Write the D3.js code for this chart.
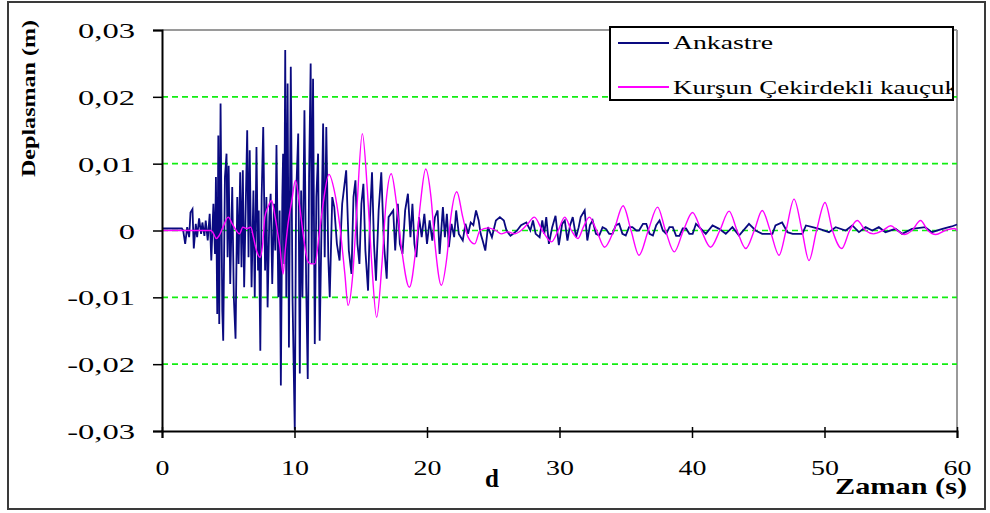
<!DOCTYPE html>
<html>
<head>
<meta charset="utf-8">
<script src="https://cdn.jsdelivr.net/npm/d3@7"></script>
<style>
  html, body { margin: 0; padding: 0; background: #fff; }
  svg { display: block; }
</style>
</head>
<body>
<svg id="chart" width="990" height="513"></svg>
<script>
// ---------------- DATA ----------------
const xTicks = [0, 10, 20, 30, 40, 50, 60];
const xTickLabels = ["0", "10", "20", "30", "40", "50", "60"];
const yTicks = [-0.03, -0.02, -0.01, 0, 0.01, 0.02, 0.03];
const yTickLabels = ["-0,03", "-0,02", "-0,01", "0", "0,01", "0,02", "0,03"];
const gridValues = [-0.02, -0.01, 0, 0.01, 0.02];
const seriesNames = ["Ankastre", "Kurşun Çekirdekli kauçuk"];
const yTitle = "Deplasman (m)";
const xTitle = "Zaman (s)";
const panelLetter = "d";

// Ankastre (fixed base) displacement, [time s, displacement m]
const ankastre = [
  [0,0.0003],[1.5,0.0003],[1.6,0],[1.75,-0.002],[1.9,0.0005],[2.05,-0.001],[2.15,0.0027],[2.3,0.0032],
  [2.4,-0.0027],[2.55,0.001],[2.65,-0.001],[2.8,0.0018],[2.95,-0.0005],[3.05,0.0012],[3.2,-0.0008],
  [3.3,0.0015],[3.45,-0.0015],[3.6,0.0025],[3.72,-0.0045],[3.88,0.004],[4.0,-0.0035],[4.07,0.008],
  [4.17,-0.0125],[4.25,0.0142],[4.32,-0.014],[4.42,0.019],[4.55,-0.012],[4.62,-0.0165],[4.75,0.008],
  [4.87,0.0115],[4.95,-0.004],[5.03,0.0097],[5.15,-0.008],[5.3,0.0065],[5.42,-0.01],[5.55,-0.0162],
  [5.68,0.005],[5.78,-0.005],[5.9,0.0087],[6.0,-0.0055],[6.1,0.009],[6.2,-0.0085],[6.43,0.015],
  [6.53,-0.004],[6.62,0.012],[6.76,-0.0085],[6.9,0.006],[7.0,-0.01],[7.13,0.0125],[7.25,-0.006],
  [7.3,0.003],[7.42,-0.018],[7.52,0.005],[7.64,0.0155],[7.78,-0.006],[7.88,0.005],[7.97,-0.0115],
  [8.1,0.002],[8.2,0.0055],[8.32,-0.008],[8.45,0.004],[8.55,-0.003],[8.64,0.0128],[8.78,-0.01],
  [8.88,0.003],[8.97,-0.0232],[9.08,0.005],[9.14,0.0115],[9.22,-0.005],[9.3,0.027],[9.38,-0.01],
  [9.48,0.022],[9.58,-0.0175],[9.72,0.0245],[9.85,-0.01],[10.02,-0.0298],[10.12,0.005],[10.28,0.0145],
  [10.4,-0.0214],[10.5,0.006],[10.6,-0.01],[10.75,0.018],[10.88,-0.008],[11.0,-0.0222],[11.1,0.008],
  [11.22,0.025],[11.3,-0.005],[11.4,0.0227],[11.53,-0.017],[11.65,0.005],[11.78,0.0115],[11.9,-0.0165],
  [12.05,0.002],[12.16,0.016],[12.28,-0.004],[12.4,0.0155],[12.55,-0.004],[12.66,-0.01],[12.85,0.005],
  [13.0,0.0035],[13.2,-0.002],[13.4,-0.0045],[13.6,0.004],[13.9,0.009],[14.1,-0.003],[14.3,-0.0065],
  [14.45,0.005],[14.6,0.0075],[14.75,-0.002],[14.9,-0.005],[15.05,0.004],[15.2,0.007],[15.35,-0.003],
  [15.55,-0.009],[15.7,0.002],[15.85,0.0087],[16.0,-0.002],[16.15,-0.0075],[16.35,0.003],[16.55,0.0087],
  [16.75,-0.002],[16.96,-0.0072],[17.1,0.002],[17.45,0.003],[17.6,-0.003],[17.8,0.004],[17.95,-0.002],
  [18.15,-0.0035],[18.35,0.003],[18.56,0.0055],[18.75,-0.001],[18.9,0.004],[19.05,-0.002],[19.2,-0.004],
  [19.4,0.002],[19.6,-0.001],[19.8,0.0025],[20.0,-0.002],[20.2,0.0015],[20.4,-0.0015],[20.6,0.002],
  [20.8,0.003],[20.95,-0.0035],[21.2,0.0035],[21.35,-0.001],[21.5,0.0025],[21.65,-0.0025],[21.85,0.001],
  [22.05,-0.001],[22.2,0.003],[22.4,-0.0005],[22.7,-0.0015],[22.9,0.001],[23.1,-0.0005],[23.3,0.0012],
  [23.5,0.0008],[23.7,0.003],[23.9,0.0015],[24.05,-0.0005],[24.2,-0.0015],[24.4,-0.003],[24.6,0.0005],
  [24.9,-0.001],[25.2,0.0015],[25.5,0.002],[25.8,0.0015],[26.0,0],[26.3,-0.0008],[26.5,-0.0005],
  [26.8,0],[27.1,0.0008],[27.5,0.0012],[27.8,0],[28.0,0.0015],[28.2,-0.0005],[28.5,-0.001],
  [28.7,0.0015],[28.85,-0.0005],[29.0,0.002],[29.2,-0.002],[29.45,0.0005],[29.7,0.0022],[29.95,-0.0022],
  [30.2,0.001],[30.4,0.0015],[30.6,-0.0015],[30.8,0.0008],[31.0,0.002],[31.25,-0.001],[31.45,0.0005],
  [31.6,0.002],[31.9,0.003],[32.1,-0.0015],[32.3,0.0008],[32.5,0.0015],[32.75,-0.0005],[33.0,-0.00075],
  [33.25,0.0005],[33.5,0.00025],[33.75,-0.0005],[34.0,-0.0005],[34.25,0.0008],[34.5,0.001],
  [34.75,-0.0005],[35.0,-0.00075],[35.25,0.0005],[35.5,0.0005],[35.8,0],[36.0,0],[36.3,0.001],
  [36.55,0.001],[36.8,-0.0005],[37.05,-0.00075],[37.3,0.0008],[37.55,0.0015],[37.8,0],[38.05,-0.0005],
  [38.3,0.0005],[38.55,0.0005],[38.8,-0.0008],[39.05,-0.0008],[39.3,0.0003],[39.55,0.0003],
  [39.8,-0.0005],[40.05,-0.0005],[40.3,0.001],[40.55,0.0005],[41.04,-0.0005],[41.55,0.00075],
  [42.05,0.00025],[42.55,-0.0005],[43.05,0.0005],[43.55,-0.00075],[44.3,0.001],[44.8,0],
  [45.3,-0.0005],[46.07,-0.0005],[46.3,0.00075],[46.8,0.0012],[47.2,-0.00025],[47.6,-0.0005],
  [48.33,-0.0005],[48.6,0.00075],[49.1,0.0005],[49.6,0.00025],[50.34,-0.00025],[50.84,0.0005],
  [51.6,0],[52.1,0.00075],[52.6,-0.00025],[53.1,0.0005],[53.6,0],[54.1,0.0005],[54.6,-0.00025],
  [55.36,0.00025],[55.86,-0.0005],[56.6,0.00025],[57.6,0.0005],[58.1,-0.00025],[58.9,0.00025],
  [59.6,0.0006],[60,0.0009]
];

// Kurşun Çekirdekli kauçuk (lead-rubber isolator) displacement, [time s, displacement m]
const kursun = [
  [0,0],[3.7,0],[3.9,-0.0005],[4.1,-0.0012],[4.3,-0.0008],[4.6,0.0005],[5.0,0.002],[5.3,0.001],
  [5.6,0],[5.85,-0.0005],[6.1,0.0005],[6.4,0.0003],[6.7,0.0005],[6.9,-0.001],[7.13,-0.003],
  [7.4,-0.004],[7.6,-0.002],[7.76,0.002],[8.0,0.0035],[8.27,0.0045],[8.5,0.0025],[8.7,0],
  [8.9,-0.0025],[9.14,-0.0065],[9.3,-0.003],[9.5,0.0008],[9.8,0.0045],[10.07,0.0075],[10.4,0.0035],
  [10.65,-0.0005],[11.03,-0.0047],[11.3,-0.005],[11.53,-0.005],[11.9,0],[12.16,0.004],[12.6,0.0084],
  [13.0,0.006],[13.4,0.001],[13.8,-0.0065],[14.04,-0.0112],[14.4,-0.0065],[14.7,0.003],[15.12,0.0145],
  [15.5,0.006],[15.8,-0.004],[16.2,-0.013],[16.6,-0.005],[16.9,0.004],[17.3,0.0085],[17.7,0.004],
  [18.1,-0.003],[18.67,-0.0085],[19.2,-0.002],[19.5,0.004],[19.9,0.0092],[20.3,0.005],[20.6,-0.002],
  [21.08,-0.0082],[21.5,-0.004],[21.8,0.002],[22.25,0.0058],[22.7,0.002],[23.1,-0.001],[23.6,-0.002],
  [24.0,0],[24.6,0.0004],[25.2,0],[25.6,-0.0005],[26.1,-0.0002],[26.6,-0.0005],[27.1,0],[27.6,0.001],
  [28.1,0.002],[28.7,0],[29.4,-0.0017],[29.9,0],[30.4,0.002],[30.9,0],[31.4,-0.0012],[31.8,0.0005],
  [32.25,0.002],[32.8,0],[33.4,-0.0025],[34.1,0],[34.8,0.0037],[35.4,0],[36.0,-0.0037],[36.7,0],
  [37.4,0.0035],[38.0,0],[38.66,-0.0032],[39.35,0],[40.04,0.0027],[40.7,0],[41.4,-0.0025],[42.1,0],
  [42.8,0.0029],[43.4,0],[44.06,-0.0027],[44.7,0],[45.3,0.003],[45.9,0],[46.57,-0.0037],[47.1,0],
  [47.7,0.0047],[48.3,0],[48.83,-0.0045],[49.4,0],[50.04,0.0042],[50.6,0],[51.3,-0.0027],[51.9,0],
  [52.47,0.0015],[53.1,0],[53.7,-0.0005],[54.4,0],[55.0,0.0007],[55.5,0],[56.0,-0.0006],[56.6,0],
  [57.25,0.0015],[57.8,0],[58.4,-0.0006],[59.1,0],[59.8,0.0003],[60,0]
];

// ---------------- CHART ----------------
const svg = d3.select("#chart");
const serif = "'Liberation Serif','Times New Roman',serif";

const x = d3.scaleLinear().domain([0, 60]).range([162, 957]);
const y = d3.scaleLinear().domain([-0.03, 0.03]).range([431, 30]);

// outer frame
svg.append("rect").attr("x", 8).attr("y", 2).attr("width", 977).attr("height", 507)
  .attr("fill", "#fff").attr("stroke", "#3a3a3a").attr("stroke-width", 2);

// plot frame (top & right grey)
svg.append("line").attr("x1", x(0)).attr("x2", x(60)).attr("y1", y(0.03)).attr("y2", y(0.03))
  .attr("stroke", "#9a9a9a").attr("stroke-width", 2);
svg.append("line").attr("x1", x(60)).attr("x2", x(60)).attr("y1", y(0.03)).attr("y2", y(-0.03))
  .attr("stroke", "#9a9a9a").attr("stroke-width", 2);

// grid
svg.append("g").selectAll("line").data(gridValues).join("line")
  .attr("x1", x(0)).attr("x2", x(60))
  .attr("y1", d => y(d)).attr("y2", d => y(d))
  .attr("stroke", "#11ee11").attr("stroke-width", 1.6)
  .attr("stroke-dasharray", "6,4");

// series
svg.append("path").datum(ankastre)
  .attr("d", d3.line().x(d => x(d[0])).y(d => y(d[1])).curve(d3.curveLinear))
  .attr("fill", "none").attr("stroke", "#0a0a80").attr("stroke-width", 1.8)
  .attr("stroke-linejoin", "miter");
svg.append("path").datum(kursun)
  .attr("d", d3.line().x(d => x(d[0])).y(d => y(d[1])).curve(d3.curveMonotoneX))
  .attr("fill", "none").attr("stroke", "#ff00ff").attr("stroke-width", 1.4);

// y axis
const yAxis = svg.append("g").attr("transform", `translate(${x(0)},0)`)
  .call(d3.axisLeft(y).tickValues(yTicks).tickSize(9)
    .tickFormat((d, i) => yTickLabels[i]));
yAxis.select(".domain").attr("stroke", "#000").attr("stroke-width", 2);
yAxis.selectAll(".tick line").attr("stroke", "#000").attr("stroke-width", 1.5);
yAxis.selectAll(".tick text")
  .attr("x", null).attr("dy", null)
  .attr("transform", "translate(-27,7.5) scale(1.48,1)")
  .attr("text-anchor", "end")
  .style("font-family", serif).style("font-size", "22px").attr("fill", "#000");

// x axis
const xAxis = svg.append("g").attr("transform", `translate(0,${y(-0.03)})`)
  .call(d3.axisBottom(x).tickValues(xTicks).tickSize(7)
    .tickFormat((d, i) => xTickLabels[i]));
xAxis.select(".domain").attr("stroke", "#000").attr("stroke-width", 2);
xAxis.selectAll(".tick line").attr("y1", -4).attr("y2", 7).attr("stroke", "#000").attr("stroke-width", 1.5);
xAxis.selectAll(".tick text")
  .attr("y", null).attr("dy", null)
  .attr("transform", "translate(0,44) scale(1.27,1)")
  .attr("text-anchor", "middle")
  .style("font-family", serif).style("font-size", "22px").attr("fill", "#000");

// axis titles
svg.append("text")
  .attr("transform", "translate(35,177) rotate(-90)")
  .attr("textLength", 157).attr("lengthAdjust", "spacingAndGlyphs")
  .style("font-family", serif).style("font-weight", "bold").style("font-size", "19px")
  .text(yTitle);
svg.append("text")
  .attr("x", 835).attr("y", 494)
  .attr("textLength", 132).attr("lengthAdjust", "spacingAndGlyphs")
  .style("font-family", serif).style("font-weight", "bold").style("font-size", "23px")
  .text(xTitle);
svg.append("text")
  .attr("x", 492).attr("y", 487).attr("text-anchor", "middle")
  .style("font-family", serif).style("font-weight", "bold").style("font-size", "25px")
  .text(panelLetter);

// legend
const lg = svg.append("g");
svg.append("defs").append("clipPath").attr("id", "lgclip")
  .append("rect").attr("x", 610).attr("y", 27).attr("width", 342).attr("height", 73);
lg.append("rect").attr("x", 610).attr("y", 27).attr("width", 343).attr("height", 73)
  .attr("fill", "#fff").attr("stroke", "#000").attr("stroke-width", 2);
const legendItems = [
  { name: seriesNames[0], color: "#0a0a80", ly: 43, ty: 49, len: 100 },
  { name: seriesNames[1], color: "#ff00ff", ly: 87, ty: 94, len: 285 }
];
const li = lg.selectAll("g.item").data(legendItems).join("g").attr("class", "item")
  .attr("clip-path", "url(#lgclip)");
li.append("line").attr("x1", 618).attr("x2", 669)
  .attr("y1", d => d.ly).attr("y2", d => d.ly)
  .attr("stroke", d => d.color).attr("stroke-width", 2);
li.append("text").attr("x", 673).attr("y", d => d.ty)
  .attr("textLength", d => d.len).attr("lengthAdjust", "spacingAndGlyphs")
  .style("font-family", serif).style("font-size", "19px").attr("fill", "#000")
  .text(d => d.name);
</script>
</body>
</html>
